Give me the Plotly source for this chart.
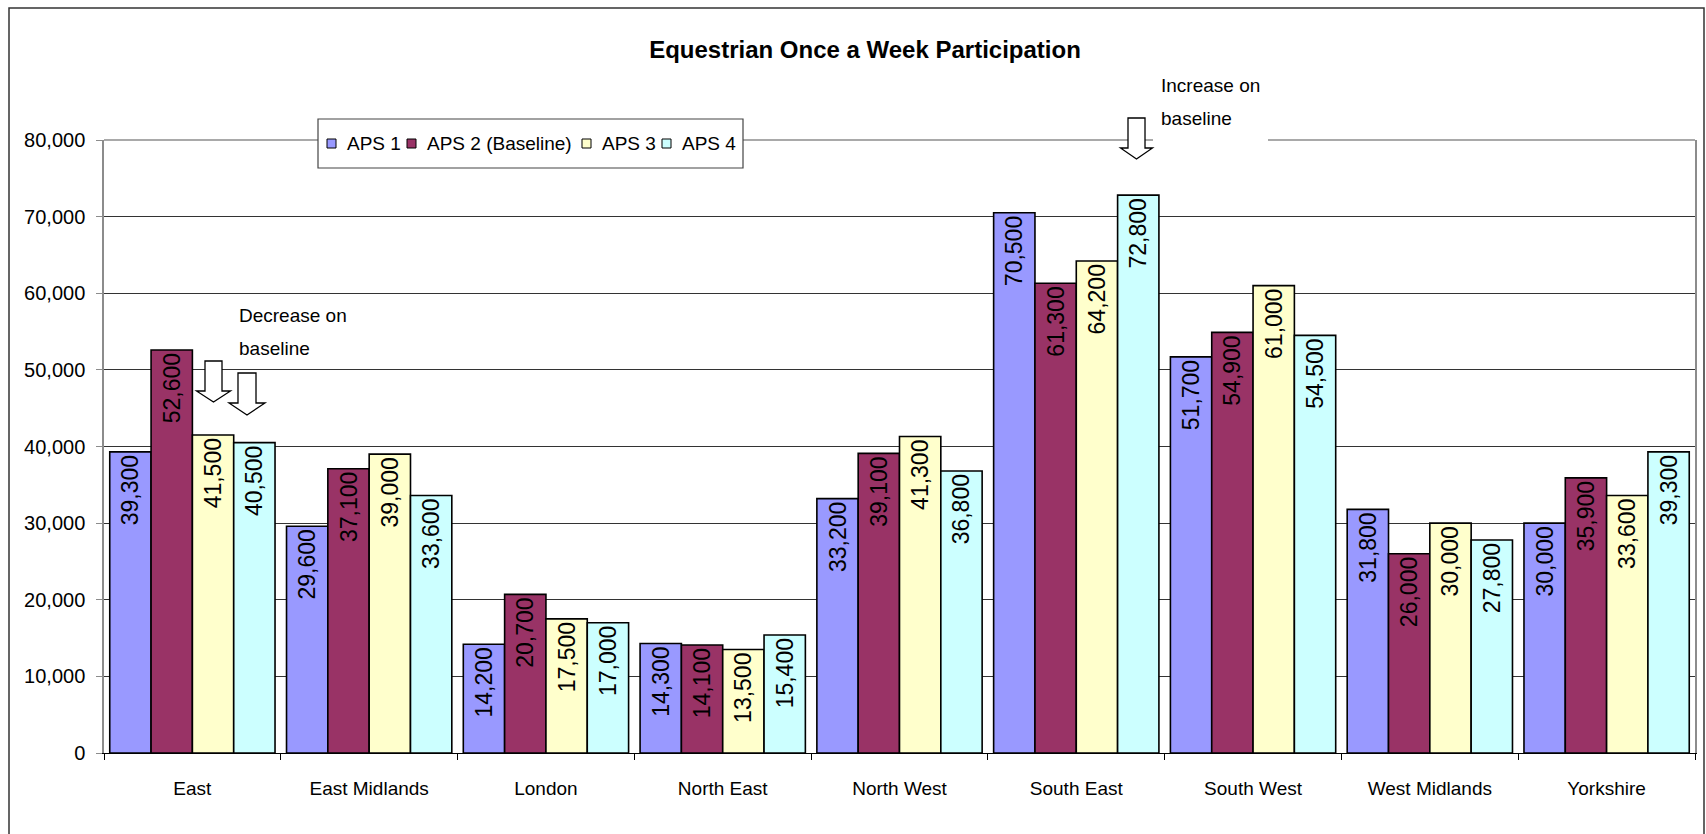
import plotly.graph_objects as go

# ---------------- data ----------------
regions = ["East", "East Midlands", "London", "North East", "North West",
           "South East", "South West", "West Midlands", "Yorkshire"]
series_names = ["APS 1", "APS 2 (Baseline)", "APS 3", "APS 4"]
aps1 = [39300, 29600, 14200, 14300, 33200, 70500, 51700, 31800, 30000]
aps2 = [52600, 37100, 20700, 14100, 39100, 61300, 54900, 26000, 35900]
aps3 = [41500, 39000, 17500, 13500, 41300, 64200, 61000, 30000, 33600]
aps4 = [40500, 33600, 17000, 15400, 36800, 72800, 54500, 27800, 39300]
y_ticks = [0, 10000, 20000, 30000, 40000, 50000, 60000, 70000, 80000]
title_text = "Equestrian Once a Week Participation"
note_decrease = ["Decrease on", "baseline"]
note_increase = ["Increase on", "baseline"]

colors = ["#9999FF", "#993366", "#FFFFCC", "#CCFFFF"]
FONT = "Liberation Sans, Arial, sans-serif"

# ---------------- layout geometry (pixels) ----------------
W, H = 1706, 834
L, R, T, B = 104, 11, 140, 81
PW, PH = W - L - R, H - T - B


def px(x):
    return (x - L) / PW


def py(y):
    return (H - B - y) / PH


def arrow_path(cx, sw, hw, y0, y1, y2):
    pts = [(cx - sw, y0), (cx + sw, y0), (cx + sw, y1), (cx + hw, y1),
           (cx, y2), (cx - hw, y1), (cx - sw, y1)]
    return "M " + " L ".join(f"{px(a):.5f},{py(b):.5f}" for a, b in pts) + " Z"


fig = go.Figure()
for name, vals, col in zip(series_names, [aps1, aps2, aps3, aps4], colors):
    fig.add_trace(go.Bar(
        name=name, x=regions, y=vals,
        marker=dict(color=col, line=dict(color="#000000", width=1.6)),
        texttemplate="%{y:,.0f}", textposition="inside",
        insidetextanchor="end", textangle=-90,
        insidetextfont=dict(family=FONT, size=23, color="#000000"),
        constraintext="none", cliponaxis=False, showlegend=False,
    ))

shapes = []
annotations = []
# white box behind the "Decrease" note (hides gridlines, not bars)
shapes.append(dict(type="rect", xref="paper", yref="paper",
                   x0=px(230), x1=px(357), y0=py(378), y1=py(300),
                   fillcolor="white", line=dict(width=0), layer="between"))
# white box behind the "Increase" note
shapes.append(dict(type="rect", xref="paper", yref="paper",
                   x0=px(1153), x1=px(1268), y0=py(146), y1=py(66),
                   fillcolor="white", line=dict(width=0), layer="above"))
# plot-area top border (gray)
shapes.append(dict(type="line", xref="paper", yref="paper",
                   x0=0, x1=1, y0=1, y1=1,
                   line=dict(color="#8c8c8c", width=1.5), layer="below"))

# legend box (drawn manually to match the original compact legend)
shapes.append(dict(type="rect", xref="paper", yref="paper",
                   x0=px(318), x1=px(743), y0=py(168), y1=py(119),
                   fillcolor="white", line=dict(color="#444444", width=1.2), layer="above"))
legend_sym_x = [327, 407, 582, 662]
legend_txt_x = [345, 425, 600, 680]
for name, col, sx, tx in zip(series_names, colors, legend_sym_x, legend_txt_x):
    shapes.append(dict(type="rect", xref="paper", yref="paper",
                       x0=px(sx), x1=px(sx + 9), y0=py(148), y1=py(139),
                       fillcolor=col, line=dict(color="#000000", width=1), layer="above"))
    annotations.append(dict(text=name, xref="paper", yref="paper",
                            x=px(tx), y=py(143), xanchor="left", yanchor="middle",
                            showarrow=False, font=dict(family=FONT, size=19, color="#000000")))

# arrows
arrow_style = dict(type="path", xref="paper", yref="paper",
                   fillcolor="white", line=dict(color="#000000", width=1.3),
                   layer="above")
shapes.append(dict(path=arrow_path(213.5, 8.5, 17, 361, 391, 402), **arrow_style))
shapes.append(dict(path=arrow_path(247, 9, 18, 373, 403, 415), **arrow_style))
shapes.append(dict(path=arrow_path(1136.5, 8.5, 16, 118, 148, 159), **arrow_style))
# outer chart border
shapes.append(dict(type="rect", xref="paper", yref="paper",
                   x0=px(9), x1=px(1704), y0=py(845), y1=py(8),
                   fillcolor="rgba(0,0,0,0)", line=dict(color="#333333", width=1.5),
                   layer="above"))

for i, t in enumerate(note_decrease):
    annotations.append(dict(text=t, xref="paper", yref="paper",
                            x=px(237), y=py(315 + 33 * i), xanchor="left", yanchor="middle",
                            showarrow=False, font=dict(family=FONT, size=19, color="#000000")))
for i, t in enumerate(note_increase):
    annotations.append(dict(text=t, xref="paper", yref="paper",
                            x=px(1159), y=py(85 + 33 * i), xanchor="left", yanchor="middle",
                            showarrow=False, font=dict(family=FONT, size=19, color="#000000")))

fig.update_layout(
    width=W, height=H, autosize=False,
    margin=dict(l=L, r=R, t=T, b=B, pad=0, autoexpand=False),
    paper_bgcolor="white", plot_bgcolor="white",
    barmode="group", bargap=0.065, bargroupgap=0,
    font=dict(family=FONT, size=19, color="#000000"),
    title=dict(text="<b>" + title_text + "</b>", x=865 / W, xanchor="center",
               y=1 - 50 / H, yanchor="middle", yref="container",
               font=dict(family=FONT, size=24, color="#000000")),
    shapes=shapes, annotations=annotations,
    showlegend=False,
)
fig.update_xaxes(
    type="category", showgrid=False, showline=True, linecolor="#000000", linewidth=1.2,
    ticks="outside", tickson="boundaries", ticklen=6, tickcolor="#000000",
    tickfont=dict(family=FONT, size=19, color="#000000"), ticklabelstandoff=18,
)
fig.update_yaxes(
    range=[0, 80000], tickvals=y_ticks, tickformat=",", showgrid=True,
    gridcolor="#333333", gridwidth=1, zeroline=False,
    showline=True, linecolor="#8c8c8c", linewidth=1.5, mirror=True,
    ticks="outside", ticklen=6, tickcolor="#8c8c8c",
    tickfont=dict(family=FONT, size=20, color="#000000"), ticklabelstandoff=7,
)

fig.write_html("out.html",
               config={"displayModeBar": False, "responsive": False},
               post_script="document.body.style.margin='0';document.body.style.overflow='hidden';")
